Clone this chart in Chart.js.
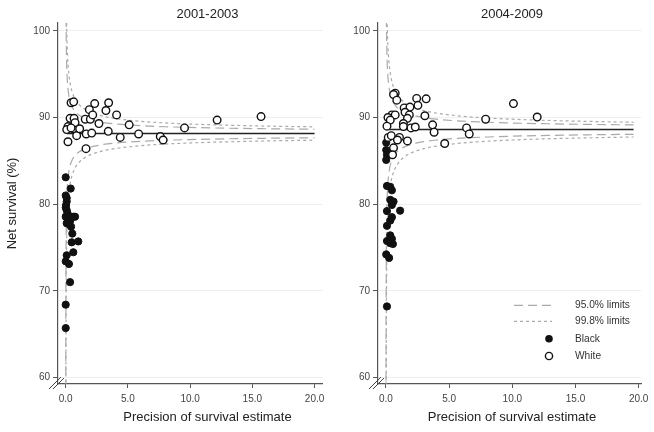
<!DOCTYPE html>
<html>
<head>
<meta charset="utf-8">
<script src="https://cdn.jsdelivr.net/npm/chart.js@4.4.0/dist/chart.umd.min.js"></script>
<style>
html, body { margin: 0; padding: 0; background: #fff; }
#wrap { position: relative; width: 654px; height: 432px; }
#chartLeft { position: absolute; left: 0; top: 0; }
#chartRight { position: absolute; left: 330px; top: 0; }
</style>
</head>
<body>
<div id="wrap">
  <canvas id="chartLeft" width="330" height="432"></canvas>
  <canvas id="chartRight" width="324" height="432"></canvas>
</div>
<script>
// panel titles and axis ticks
const panelTitles = ['2001-2003', '2004-2009'];
const xTitle = 'Precision of survival estimate';
const yTitle = 'Net survival (%)';
const xTicks = [0, 5, 10, 15, 20];
const yTicks = [60, 70, 80, 90, 100];
const legendLabels = ['95.0% limits', '99.8% limits', 'Black', 'White'];

// 2001-2003 : White
const whiteX1 = [0.43, 0.64, 0.35, 0.67, 0.18, 0.08, 0.61, 0.75, 0.88, 1.12, 0.18, 1.63, 1.65, 2.09, 1.57, 1.90, 1.98,
  2.17, 2.33, 2.67, 3.23, 3.45, 3.42, 4.09, 4.38, 5.10, 5.86, 7.60, 7.83, 9.55, 12.17, 15.70, 0.43];
const whiteY1 = [91.7, 91.8, 89.9, 89.9, 88.95, 88.6, 88.7, 89.4, 87.9, 88.7, 87.2, 86.4, 88.1, 88.2, 89.8, 90.9, 89.8,
  90.3, 91.6, 89.3, 90.8, 91.7, 88.4, 90.3, 87.7, 89.15, 88.1, 87.8, 87.4, 88.8, 89.7, 90.1, 88.8];
// 2001-2003 : Black
const blackX1 = [0, 0.40, 0, 0.08, 0.08, 0.03, 0, 0.08, 0.16, 0, 0.21, 0.61, 0.75, 0.35, 0.08, 0.26, 0.43, 0.53,
  0.48, 1.01, 0.61, 0.08, 0, 0.26, 0.35, 0, 0];
const blackY1 = [83.1, 81.8, 81.0, 80.7, 80.3, 79.9, 79.6, 79.3, 78.9, 78.55, 78.4, 78.55, 78.55, 78.05, 77.8, 77.7, 77.4, 76.6,
  75.6, 75.7, 74.45, 74.1, 73.4, 73.1, 71.0, 68.4, 65.7];

// 2004-2009 : White
const whiteX2 = [0.73, 0.60, 0.86, 2.43, 3.18, 2.53, 1.44, 1.90, 1.51, 1.85, 0.47, 0.73, 0.16, 0.34, 1.70, 3.08, 1.38,
  1.38, 0.08, 1.98, 2.32, 3.69, 3.81, 6.38, 6.59, 7.89, 10.09, 11.97, 4.65, 0.18, 0.42, 1.07, 0.91, 1.70, 0.60, 0.52];
const whiteY2 = [92.8, 92.65, 92.0, 92.2, 92.15, 91.4, 91.1, 91.2, 90.6, 90.3, 90.3, 90.3, 90.0, 89.7, 89.9, 90.2, 89.3,
  88.95, 89.0, 88.8, 88.9, 89.15, 88.3, 88.8, 88.1, 89.8, 91.6, 90.05, 87.0, 87.7, 87.9, 87.7, 87.4, 87.3, 86.5, 85.7];
// 2004-2009 : Black
const blackX2 = [0.02, 0.02, 0.08, 0.02, 0.08, 0.34, 0.47, 0.34, 0.60, 0.47, 0.08, 1.12, 0.47, 0.34, 0.08, 0.34, 0.47,
  0.08, 0.34, 0.55, 0.02, 0.25, 0.08];
const blackY2 = [87.1, 86.25, 85.7, 85.1, 82.1, 82.0, 81.6, 80.5, 80.3, 79.9, 79.2, 79.25, 78.5, 78.1, 77.5, 76.4, 76.0,
  75.75, 75.5, 75.4, 74.2, 73.8, 68.2];

// overall mean lines
const meanX1 = [0.1, 20];
const meanY1 = [88.15, 88.15];
const meanX2 = [0.2, 19.6];
const meanY2 = [88.6, 88.6];

// funnel control limits read along precision
const limX1 = [0.005, 0.01, 0.02, 0.035, 0.05, 0.075, 0.1, 0.15, 0.2, 0.3, 0.5, 0.75, 1, 1.5, 2, 3, 4, 6, 8, 10, 13, 16, 20];
const hi95_1 = [119.25, 110.15, 103.75, 99.95, 97.99, 96.18, 95.11, 93.83, 93.07, 92.17, 91.26, 90.69, 90.35, 89.95, 89.71,
  89.42, 89.25, 89.05, 88.93, 88.85, 88.76, 88.70, 88.64];
const lo95_1 = [57.05, 66.15, 72.55, 76.35, 78.31, 80.12, 81.19, 82.47, 83.23, 84.13, 85.04, 85.61, 85.95, 86.35, 86.59,
  86.88, 87.05, 87.25, 87.37, 87.45, 87.54, 87.60, 87.66];
const hi998_1 = [136.95, 122.65, 112.55, 106.55, 103.55, 100.75, 99.05, 97.06, 95.86, 94.45, 93.03, 92.13, 91.60, 90.97, 90.59,
  90.14, 89.88, 89.56, 89.37, 89.24, 89.11, 89.01, 88.92];
const lo998_1 = [39.35, 53.65, 63.75, 69.75, 72.75, 75.55, 77.25, 79.24, 80.44, 81.85, 83.27, 84.17, 84.70, 85.33, 85.71,
  86.16, 86.42, 86.74, 86.93, 87.06, 87.19, 87.29, 87.38];

const limX2 = [0.005, 0.01, 0.02, 0.035, 0.05, 0.075, 0.1, 0.15, 0.2, 0.3, 0.5, 0.75, 1, 1.5, 2, 3, 4, 6, 8, 10, 13, 16, 19.6];
const hi95_2 = [122.5, 112.6, 105.6, 101.4, 99.3, 97.36, 96.19, 94.8, 93.97, 92.98, 91.99, 91.37, 91.0, 90.56, 90.3,
  89.99, 89.8, 89.58, 89.45, 89.36, 89.27, 89.2, 89.14];
const lo95_2 = [54.7, 64.6, 71.6, 75.8, 77.9, 79.84, 81.01, 82.4, 83.23, 84.22, 85.21, 85.83, 86.2, 86.64, 86.9,
  87.21, 87.4, 87.62, 87.75, 87.84, 87.93, 88.0, 88.06];
const hi998_2 = [142.3, 126.6, 115.5, 108.9, 105.6, 102.5, 100.6, 98.41, 97.1, 95.54, 93.97, 92.99, 92.4, 91.7, 91.29,
  90.79, 90.5, 90.15, 89.94, 89.8, 89.65, 89.55, 89.45];
const lo998_2 = [34.9, 50.6, 61.7, 68.3, 71.6, 74.7, 76.6, 78.79, 80.1, 81.66, 83.23, 84.21, 84.8, 85.5, 85.91,
  86.41, 86.7, 87.05, 87.26, 87.4, 87.55, 87.65, 87.75];

const FONT = "'Liberation Sans', Arial, sans-serif";
const LIMIT_COLOR = '#aaaaaa';
const DASH95 = [9, 5];
const DASH998 = [3, 3];

let pts = (xs, ys) => xs.map((x, i) => ({ x: x, y: ys[i] }));

let limitLine = (xs, ys, dash) => ({
  data: pts(xs, ys),
  showLine: true,
  borderColor: LIMIT_COLOR,
  borderWidth: 1.2,
  borderDash: dash,
  pointRadius: 0,
  cubicInterpolationMode: 'monotone',
  clip: 0,
  order: 2
});

// the "//" break at the bottom of the y axis
const axisBreak = {
  id: 'axisBreak',
  afterDraw(chart) {
    const ctx = chart.ctx;
    const a = chart.chartArea;
    ctx.save();
    ctx.strokeStyle = '#444';
    ctx.lineWidth = 1;
    ctx.beginPath();
    ctx.moveTo(a.left - 9, a.bottom + 5);
    ctx.lineTo(a.left + 3, a.bottom - 7);
    ctx.moveTo(a.left - 5, a.bottom + 5);
    ctx.lineTo(a.left + 6, a.bottom - 6);
    ctx.stroke();
    ctx.restore();
  }
};

// panel title on top and x axis title at the bottom, both centred on the same x
const panelText = {
  id: 'panelText',
  afterDraw(chart, args, opts) {
    const ctx = chart.ctx;
    ctx.save();
    ctx.font = '13px ' + FONT;
    ctx.fillStyle = '#222';
    ctx.textAlign = 'center';
    ctx.textBaseline = 'middle';
    ctx.fillText(opts.title, opts.cx, 14.5);
    ctx.fillText(xTitle, opts.cx, 417.5);
    ctx.restore();
  }
};

// legend block drawn inside the right panel
const funnelLegend = {
  id: 'funnelLegend',
  afterDraw(chart, args, opts) {
    if (!opts.show) return;
    const ctx = chart.ctx;
    const rows = [305.3, 321.3, 338.7, 356];
    ctx.save();
    ctx.font = '10.2px ' + FONT;
    ctx.fillStyle = '#333';
    ctx.textBaseline = 'middle';
    ctx.textAlign = 'left';
    legendLabels.forEach((t, i) => ctx.fillText(t, 245, rows[i]));
    ctx.strokeStyle = LIMIT_COLOR;
    ctx.lineWidth = 1.2;
    [DASH95, DASH998].forEach((d, i) => {
      ctx.setLineDash(d);
      ctx.beginPath();
      ctx.moveTo(184, rows[i]);
      ctx.lineTo(222, rows[i]);
      ctx.stroke();
    });
    ctx.setLineDash([]);
    ctx.beginPath();
    ctx.arc(219, rows[2], 3.8, 0, Math.PI * 2);
    ctx.fillStyle = '#111';
    ctx.fill();
    ctx.beginPath();
    ctx.arc(219, rows[3], 3.6, 0, Math.PI * 2);
    ctx.fillStyle = '#fff';
    ctx.fill();
    ctx.strokeStyle = '#111';
    ctx.lineWidth = 1.4;
    ctx.stroke();
    ctx.restore();
  }
};

let makePanel = (id, p) => {
  const datasets = [
    {
      label: 'White',
      data: pts(p.wx, p.wy),
      pointRadius: 3.8,
      pointBackgroundColor: '#fff',
      pointBorderColor: '#111',
      pointBorderWidth: 1.4,
      order: 0
    },
    {
      label: 'Black',
      data: pts(p.bx, p.by),
      pointRadius: 3.6,
      pointBackgroundColor: '#111',
      pointBorderColor: '#111',
      pointBorderWidth: 1,
      order: 0
    },
    {
      label: 'mean',
      data: pts(p.mx, p.my),
      showLine: true,
      borderColor: '#222',
      borderWidth: 1.5,
      pointRadius: 0,
      order: 1
    },
    limitLine(p.lx, p.h95, DASH95),
    limitLine(p.lx, p.l95, DASH95),
    limitLine(p.lx, p.h998, DASH998),
    limitLine(p.lx, p.l998, DASH998)
  ];

  const config = {
    type: 'scatter',
    data: { datasets: datasets },
    plugins: [axisBreak, panelText, funnelLegend],
    options: {
      responsive: false,
      animation: false,
      events: [],
      layout: { padding: { left: 0, right: p.padRight, top: 23, bottom: 0 } },
      plugins: {
        legend: { display: false },
        tooltip: { enabled: false },
        title: { display: false },
        panelText: { title: p.title, cx: p.cx },
        funnelLegend: { show: p.legend }
      },
      scales: {
        x: {
          type: 'linear',
          min: p.xMin,
          max: p.xMax,
          afterBuildTicks: (s) => { s.ticks = xTicks.map(v => ({ value: v })); },
          afterFit: (s) => { s.height = 48; },
          border: { color: '#555', width: 1.2 },
          grid: { drawOnChartArea: false, drawTicks: true, tickLength: 4, tickColor: '#555' },
          ticks: {
            color: '#444',
            padding: 5.5,
            maxRotation: 0,
            font: { family: FONT, size: 10 },
            callback: (v) => v.toFixed(1)
          },
          title: { display: false }
        },
        y: {
          type: 'linear',
          min: 59.25,
          max: 100.9,
          afterBuildTicks: (s) => { s.ticks = yTicks.map(v => ({ value: v })); },
          afterFit: (s) => { s.width = p.yWidth; },
          border: { color: '#555', width: 1.2 },
          grid: { color: '#eeeeee', lineWidth: 1, drawTicks: true, tickLength: 5, tickColor: '#555' },
          ticks: {
            color: '#444',
            padding: 3,
            font: { family: FONT, size: 10 }
          },
          title: {
            display: p.yTitle,
            text: yTitle,
            color: '#222',
            font: { family: FONT, size: 13 },
            padding: { top: 4.5, bottom: 0 }
          }
        }
      }
    }
  };

  return new Chart(document.getElementById(id), config);
};

makePanel('chartLeft', {
  title: panelTitles[0], cx: 207.5,
  wx: whiteX1, wy: whiteY1, bx: blackX1, by: blackY1,
  mx: meanX1, my: meanY1,
  lx: limX1, h95: hi95_1, l95: lo95_1, h998: hi998_1, l998: lo998_1,
  xMin: -0.62, xMax: 20.65, yWidth: 58, padRight: 7, yTitle: true, legend: false
});

makePanel('chartRight', {
  title: panelTitles[1], cx: 182,
  wx: whiteX2, wy: whiteY2, bx: blackX2, by: blackY2,
  mx: meanX2, my: meanY2,
  lx: limX2, h95: hi95_2, l95: lo95_2, h998: hi998_2, l998: lo998_2,
  xMin: -0.63, xMax: 20.2, yWidth: 48, padRight: 11, yTitle: false, legend: true
});
</script>
</body>
</html>
